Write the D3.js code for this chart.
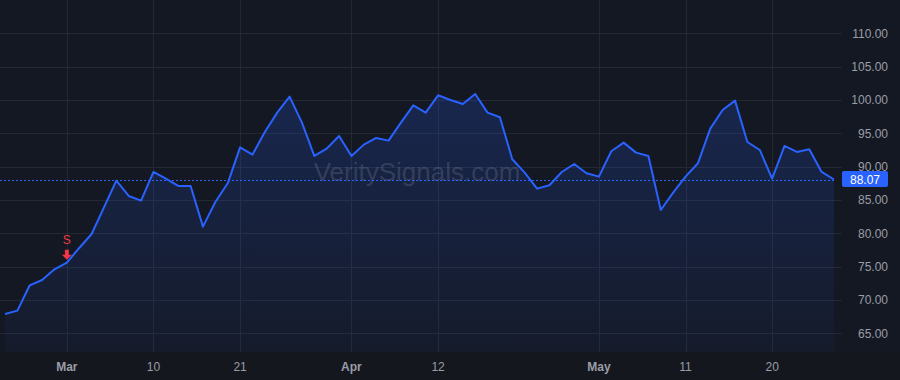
<!DOCTYPE html>
<html>
<head>
<meta charset="utf-8">
<script src="https://cdn.jsdelivr.net/npm/d3@7"></script>
<style>
  html, body { margin: 0; padding: 0; background: #141822; }
  svg { display: block; }
</style>
</head>
<body>
<div id="chart"></div>
<script>
// Closing prices, one per trading session
const closes = [
  67.9, 68.4, 72.2, 73.0, 74.6, 75.6, 77.8, 79.9, 83.9, 87.9,
  85.6, 84.9, 89.2, 88.2, 87.1, 87.1, 81.0, 84.7, 87.5, 92.9,
  91.8, 95.2, 98.1, 100.5, 96.6, 91.6, 92.7, 94.6, 91.6, 93.3,
  94.3, 93.9, 96.6, 99.2, 98.1, 100.7, 100.0, 99.4, 100.9, 98.1,
  97.4, 91.1, 89.1, 86.7, 87.2, 89.2, 90.4, 89.0, 88.5, 92.3,
  93.6, 92.1, 91.6, 83.5, 86.1, 88.5, 90.5, 95.7, 98.5, 99.9,
  93.7, 92.5, 88.2, 93.1, 92.2, 92.6, 89.2, 88.07
];

// Time axis ticks (index into closes -> label)
const tickIndex = [5, 12, 19, 28, 35, 48, 55, 62];
const tickLabels = ["Mar", "10", "21", "Apr", "12", "May", "11", "20"];
const tickBold = [true, false, false, true, false, true, false, false];

// Price axis ticks
const priceTicks = [65, 70, 75, 80, 85, 90, 95, 100, 105, 110];

// Signal marker
const signalIndex = 5;
const signalLabel = "S";

const lastPrice = closes[closes.length - 1];

const width = 900, height = 380;
const plotRight = 835, plotBottom = 352;

const svg = d3.select("#chart")
  .append("svg")
  .attr("width", width)
  .attr("height", height)
  .style("font-family", "'Liberation Sans', Arial, sans-serif");

svg.append("rect")
  .attr("width", width).attr("height", height)
  .attr("fill", "#141822");

svg.append("rect")
  .attr("y", plotBottom).attr("width", width).attr("height", height - plotBottom)
  .attr("fill", "#15171f");

const x = d3.scaleLinear()
  .domain([0, closes.length - 1])
  .range([5, 834]);

const y = d3.scaleLinear()
  .domain([65, 110])
  .range([333.3, 33.3]);

// Grid
const grid = svg.append("g").attr("stroke", "#242833").attr("stroke-width", 1);
grid.selectAll("line.h")
  .data(priceTicks)
  .join("line")
    .attr("class", "h")
    .attr("x1", 0).attr("x2", plotRight + 7)
    .attr("y1", d => Math.round(y(d)) + 0.5)
    .attr("y2", d => Math.round(y(d)) + 0.5);
grid.selectAll("line.v")
  .data(tickIndex)
  .join("line")
    .attr("class", "v")
    .attr("x1", d => Math.round(x(d)) + 0.5)
    .attr("x2", d => Math.round(x(d)) + 0.5)
    .attr("y1", 0).attr("y2", plotBottom);

// Area gradient
const defs = svg.append("defs");
const grad = defs.append("linearGradient")
  .attr("id", "areaFill")
  .attr("gradientUnits", "userSpaceOnUse")
  .attr("x1", 0).attr("x2", 0)
  .attr("y1", y(d3.max(closes))).attr("y2", plotBottom);
grad.append("stop").attr("offset", 0).attr("stop-color", "#2962ff").attr("stop-opacity", 0.2);
grad.append("stop").attr("offset", 1).attr("stop-color", "#2962ff").attr("stop-opacity", 0.04);

const area = d3.area()
  .x((d, i) => x(i))
  .y0(plotBottom)
  .y1(d => y(d));

svg.append("path")
  .datum(closes)
  .attr("d", area)
  .attr("fill", "url(#areaFill)");

// Watermark
svg.append("text")
  .attr("x", 417)
  .attr("y", 181)
  .attr("text-anchor", "middle")
  .style("font-size", "26px")
  .style("fill", "rgba(178,181,190,0.2)")
  .text("VeritySignals.com");

// Last price line
svg.append("line")
  .attr("x1", 0).attr("x2", plotRight)
  .attr("y1", Math.round(y(lastPrice)) + 0.5)
  .attr("y2", Math.round(y(lastPrice)) + 0.5)
  .attr("stroke", "#2962ff")
  .attr("stroke-width", 1)
  .attr("stroke-dasharray", "2,2");

// Price line
const line = d3.line()
  .x((d, i) => x(i))
  .y(d => y(d));

svg.append("path")
  .datum(closes)
  .attr("d", line)
  .attr("fill", "none")
  .attr("stroke", "#2962ff")
  .attr("stroke-width", 2)
  .attr("stroke-linejoin", "round");

// Signal marker
const sx = x(signalIndex), sy = y(closes[signalIndex]);
svg.append("path")
  .attr("d", `M${sx - 2},${sy - 13} h4 v5 h3 l-5,5 l-5,-5 h3 z`)
  .attr("fill", "#f23645");
svg.append("text")
  .attr("x", sx)
  .attr("y", sy - 19)
  .attr("text-anchor", "middle")
  .style("font-size", "12px")
  .style("fill", "#f23645")
  .text(signalLabel);

// Price axis labels
svg.append("g")
  .selectAll("text")
  .data(priceTicks)
  .join("text")
    .attr("x", 888)
    .attr("y", d => y(d))
    .attr("dy", "0.35em")
    .attr("text-anchor", "end")
    .style("font-size", "12px")
    .style("fill", "#9a9da6")
    .text(d => d3.format(".2f")(d));

// Last price badge
const by = y(lastPrice);
svg.append("rect")
  .attr("x", 842).attr("y", by - 8.5)
  .attr("width", 46).attr("height", 16)
  .attr("rx", 2)
  .attr("fill", "#2962ff");
svg.append("text")
  .attr("x", 865).attr("y", by)
  .attr("dy", "0.35em")
  .attr("text-anchor", "middle")
  .style("font-size", "12px")
  .style("fill", "#ffffff")
  .text(d3.format(".2f")(lastPrice));

// Time axis labels
svg.append("g")
  .selectAll("text")
  .data(tickIndex)
  .join("text")
    .attr("x", d => x(d))
    .attr("y", 367)
    .attr("dy", "0.35em")
    .attr("text-anchor", "middle")
    .style("font-size", "12px")
    .style("font-weight", (d, i) => tickBold[i] ? "bold" : "normal")
    .style("fill", "#9a9da6")
    .text((d, i) => tickLabels[i]);
</script>
</body>
</html>
